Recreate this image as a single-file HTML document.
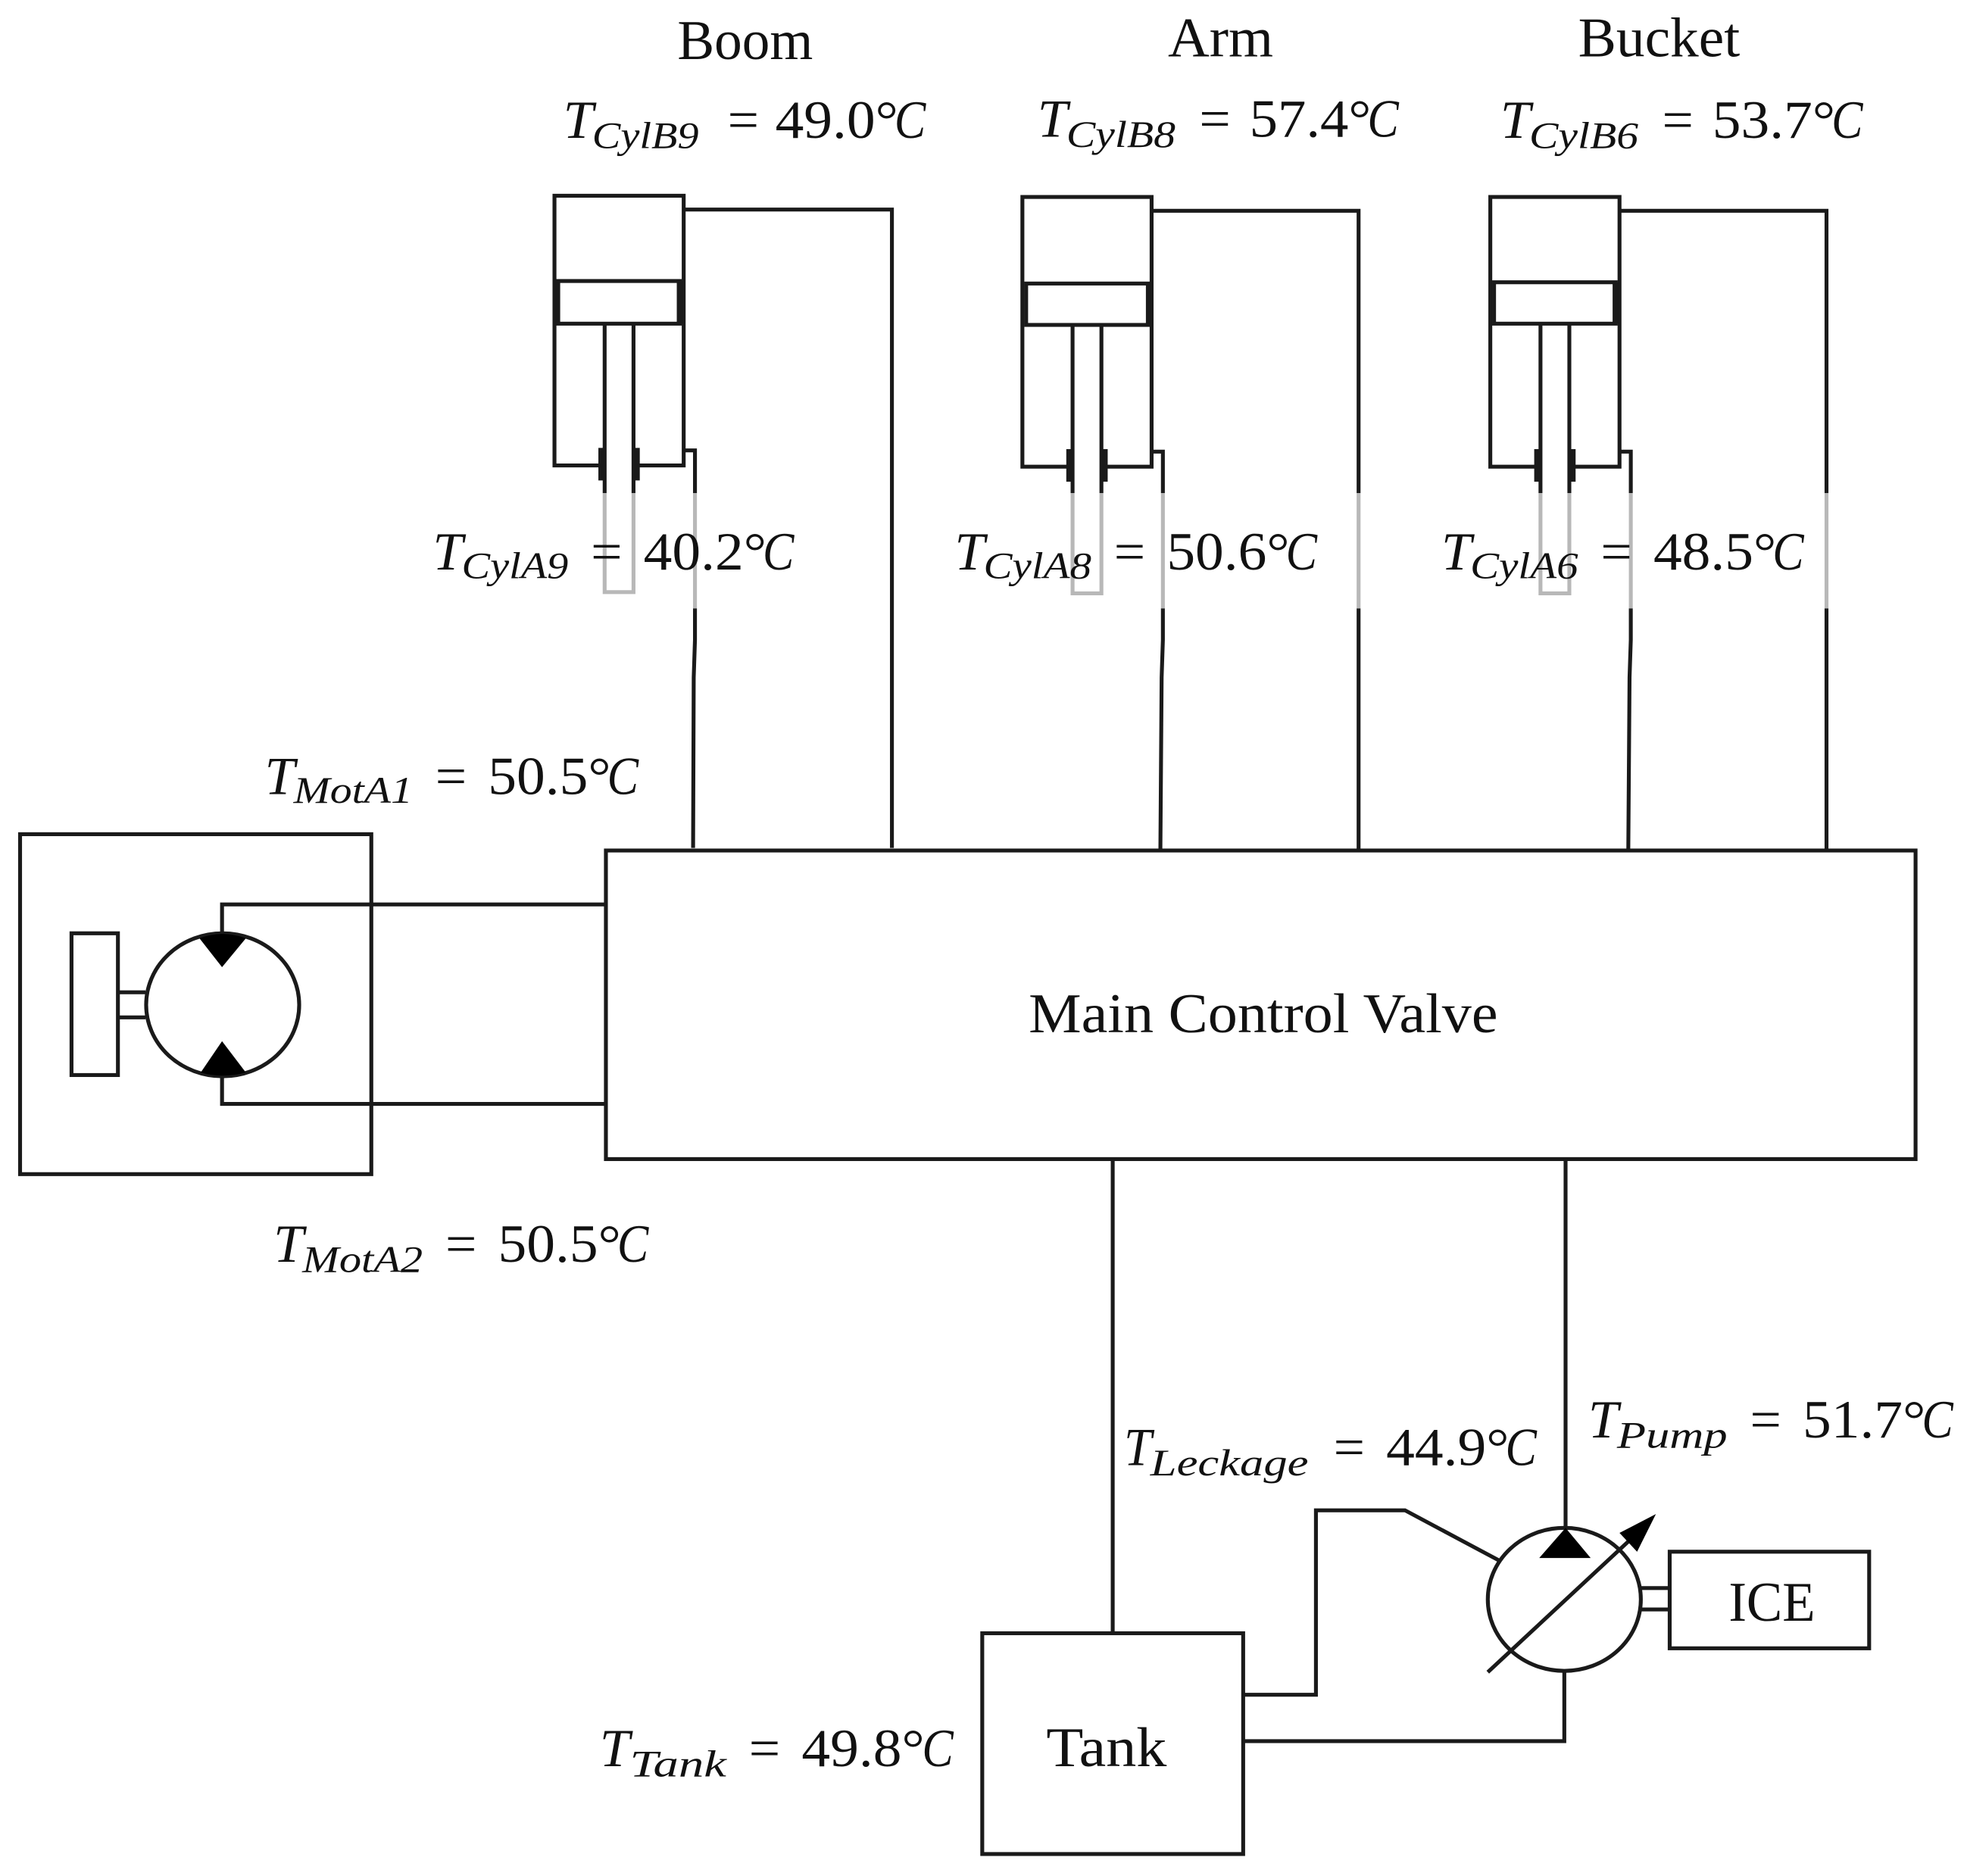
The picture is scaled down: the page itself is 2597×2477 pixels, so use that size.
<!DOCTYPE html>
<html><head><meta charset="utf-8"><style>
html,body{margin:0;padding:0;background:#fff}
svg{display:block}
text{font-family:"Liberation Serif",serif;fill:#111}
.n{font-size:45px}
.t{font-size:43px;font-style:italic}
.s{font-size:30px;font-style:italic}
.v{font-size:43px}
path,rect,ellipse,line{fill:none;stroke:#1a1a1a;stroke-width:3.1}
.g{stroke:#b8b8b8}
path.k{fill:#000;stroke:none}
.th{stroke-width:6}
</style></head><body>
<svg width="2597" height="2477" viewBox="0 0 1568 1495.5" xmlns="http://www.w3.org/2000/svg">
<!-- Cylinder 1 -->
<path d="M480 371H442V156H545V371H507"/><rect x="445" y="224" width="97" height="34"/>
<line x1="542.500" y1="224" x2="542.500" y2="258" class="th"/>
<path d="M482 258V393M505 258V393"/><path class="g" d="M482 393V472H505V393"/>
<line x1="480" y1="357" x2="480" y2="383" class="th"/><line x1="507" y1="357" x2="507" y2="383" class="th"/>
<path d="M545 359H554V393"/><path class="g" d="M554 393V485"/><path d="M554 485V510L553 540L552.500 676"/>
<path d="M545 167H711V676"/>
<!-- Cylinder 2 -->
<path d="M853 372H815V157H918V372H880"/><rect x="818" y="226" width="97" height="33"/>
<path d="M855 259V393M878 259V393"/><path class="g" d="M855 393V473H878V393"/>
<line x1="853" y1="358" x2="853" y2="384" class="th"/><line x1="880" y1="358" x2="880" y2="384" class="th"/>
<path d="M918 360H927V393"/><path class="g" d="M927 393V485"/><path d="M927 485V510L926 540L925 678"/>
<path d="M918 168H1083V393"/><path class="g" d="M1083 393V485"/><path d="M1083 485V678"/>
<!-- Cylinder 3 -->
<path d="M1226 372H1188V157H1291V372H1253"/><rect x="1191" y="225" width="97" height="33"/>
<line x1="1288.500" y1="225" x2="1288.500" y2="258" class="th"/>
<path d="M1228 258V393M1251 258V393"/><path class="g" d="M1228 393V473H1251V393"/>
<line x1="1226" y1="358" x2="1226" y2="384" class="th"/><line x1="1253" y1="358" x2="1253" y2="384" class="th"/>
<path d="M1291 360H1300V393"/><path class="g" d="M1300 393V485"/><path d="M1300 485V510L1299 540L1298 678"/>
<path d="M1291 168H1456V393"/><path class="g" d="M1456 393V485"/><path d="M1456 485V678"/>
<!-- Main valve -->
<rect x="483" y="678" width="1044" height="246"/>
<!-- Motor -->
<rect x="16" y="665" width="280" height="271"/>
<rect x="57" y="744" width="37" height="113"/>
<path d="M94 791H116M94 811H116"/>
<ellipse cx="177.500" cy="801" rx="61" ry="57"/>
<path d="M177 745V721H483M177 857V880H483"/>
<path class="k" d="M159 748Q177 741 196 748L177 771Z"/>
<path class="k" d="M160 855Q177 860 196 855L177 830Z"/>
<!-- Lower lines -->
<path d="M887 924V1302M1248 924V1220"/>
<rect x="783" y="1302" width="208" height="176"/>
<ellipse cx="1247" cy="1275" rx="61" ry="57"/>
<path class="k" d="M1227 1242H1268L1248 1218Z"/>
<line x1="1186" y1="1333" x2="1300" y2="1227"/>
<path class="k" d="M1320 1207L1291 1222L1305 1237Z"/>
<path d="M1308 1266H1331M1308 1283H1331"/>
<rect x="1331" y="1237" width="159" height="77"/>
<path d="M991 1351H1049V1204H1120L1195 1244"/>
<path d="M991 1388H1247V1332"/>
<!-- Titles -->
<text class="n" x="540" y="47" textLength="108" lengthAdjust="spacingAndGlyphs">Boom</text>
<text class="n" x="931" y="45" textLength="84" lengthAdjust="spacingAndGlyphs">Arm</text>
<text class="n" x="1258" y="45" textLength="129" lengthAdjust="spacingAndGlyphs">Bucket</text>
<text class="n" x="820" y="823" textLength="374" lengthAdjust="spacingAndGlyphs">Main Control Valve</text>
<text class="n" x="1378" y="1292" textLength="69" lengthAdjust="spacingAndGlyphs">ICE</text>
<text class="n" x="834" y="1408" textLength="96" lengthAdjust="spacingAndGlyphs">Tank</text>
<!-- Labels -->
<g>
<text class="t" x="449" y="110" textLength="24" lengthAdjust="spacingAndGlyphs">T</text><text class="s" x="472" y="118" textLength="85" lengthAdjust="spacingAndGlyphs">CylB9</text><text class="v" x="580" y="110" textLength="25" lengthAdjust="spacingAndGlyphs">=</text><text class="v" x="618" y="110" textLength="98" lengthAdjust="spacingAndGlyphs">49.0°</text><text class="t" x="713" y="110" textLength="25" lengthAdjust="spacingAndGlyphs">C</text>
<text class="t" x="827" y="109" textLength="24" lengthAdjust="spacingAndGlyphs">T</text><text class="s" x="850" y="117" textLength="87" lengthAdjust="spacingAndGlyphs">CylB8</text><text class="v" x="956" y="109" textLength="25" lengthAdjust="spacingAndGlyphs">=</text><text class="v" x="996" y="109" textLength="97" lengthAdjust="spacingAndGlyphs">57.4°</text><text class="t" x="1090" y="109" textLength="25" lengthAdjust="spacingAndGlyphs">C</text>
<text class="t" x="1196" y="110" textLength="24" lengthAdjust="spacingAndGlyphs">T</text><text class="s" x="1219" y="118" textLength="87" lengthAdjust="spacingAndGlyphs">CylB6</text><text class="v" x="1325" y="110" textLength="25" lengthAdjust="spacingAndGlyphs">=</text><text class="v" x="1365" y="110" textLength="98" lengthAdjust="spacingAndGlyphs">53.7°</text><text class="t" x="1460" y="110" textLength="25" lengthAdjust="spacingAndGlyphs">C</text>
<text class="t" x="345" y="454" textLength="24" lengthAdjust="spacingAndGlyphs">T</text><text class="s" x="368" y="461" textLength="85" lengthAdjust="spacingAndGlyphs">CylA9</text><text class="v" x="471" y="454" textLength="25" lengthAdjust="spacingAndGlyphs">=</text><text class="v" x="513" y="454" textLength="98" lengthAdjust="spacingAndGlyphs">40.2°</text><text class="t" x="608" y="454" textLength="25" lengthAdjust="spacingAndGlyphs">C</text>
<text class="t" x="761" y="454" textLength="24" lengthAdjust="spacingAndGlyphs">T</text><text class="s" x="784" y="461" textLength="86" lengthAdjust="spacingAndGlyphs">CylA8</text><text class="v" x="888" y="454" textLength="25" lengthAdjust="spacingAndGlyphs">=</text><text class="v" x="930" y="454" textLength="98" lengthAdjust="spacingAndGlyphs">50.6°</text><text class="t" x="1025" y="454" textLength="25" lengthAdjust="spacingAndGlyphs">C</text>
<text class="t" x="1149" y="454" textLength="24" lengthAdjust="spacingAndGlyphs">T</text><text class="s" x="1172" y="461" textLength="86" lengthAdjust="spacingAndGlyphs">CylA6</text><text class="v" x="1276" y="454" textLength="25" lengthAdjust="spacingAndGlyphs">=</text><text class="v" x="1318" y="454" textLength="98" lengthAdjust="spacingAndGlyphs">48.5°</text><text class="t" x="1413" y="454" textLength="25" lengthAdjust="spacingAndGlyphs">C</text>
<text class="t" x="211" y="633" textLength="24" lengthAdjust="spacingAndGlyphs">T</text><text class="s" x="234" y="640" textLength="95" lengthAdjust="spacingAndGlyphs">MotA1</text><text class="v" x="347" y="633" textLength="25" lengthAdjust="spacingAndGlyphs">=</text><text class="v" x="389" y="633" textLength="98" lengthAdjust="spacingAndGlyphs">50.5°</text><text class="t" x="484" y="633" textLength="25" lengthAdjust="spacingAndGlyphs">C</text>
<text class="t" x="218" y="1006" textLength="24" lengthAdjust="spacingAndGlyphs">T</text><text class="s" x="241" y="1014" textLength="96" lengthAdjust="spacingAndGlyphs">MotA2</text><text class="v" x="355" y="1006" textLength="25" lengthAdjust="spacingAndGlyphs">=</text><text class="v" x="397" y="1006" textLength="98" lengthAdjust="spacingAndGlyphs">50.5°</text><text class="t" x="492" y="1006" textLength="25" lengthAdjust="spacingAndGlyphs">C</text>
<text class="t" x="896" y="1168" textLength="22" lengthAdjust="spacingAndGlyphs">T</text><text class="s" x="917" y="1176" textLength="126" lengthAdjust="spacingAndGlyphs">Leckage</text><text class="v" x="1063" y="1168" textLength="25" lengthAdjust="spacingAndGlyphs">=</text><text class="v" x="1105" y="1168" textLength="98" lengthAdjust="spacingAndGlyphs">44.9°</text><text class="t" x="1200" y="1168" textLength="25" lengthAdjust="spacingAndGlyphs">C</text>
<text class="t" x="1266" y="1146" textLength="24" lengthAdjust="spacingAndGlyphs">T</text><text class="s" x="1289" y="1154" textLength="88" lengthAdjust="spacingAndGlyphs">Pump</text><text class="v" x="1395" y="1146" textLength="25" lengthAdjust="spacingAndGlyphs">=</text><text class="v" x="1437" y="1146" textLength="98" lengthAdjust="spacingAndGlyphs">51.7°</text><text class="t" x="1532" y="1146" textLength="25" lengthAdjust="spacingAndGlyphs">C</text>
<text class="t" x="478" y="1408" textLength="24" lengthAdjust="spacingAndGlyphs">T</text><text class="s" x="502" y="1416" textLength="77" lengthAdjust="spacingAndGlyphs">Tank</text><text class="v" x="597" y="1408" textLength="25" lengthAdjust="spacingAndGlyphs">=</text><text class="v" x="639" y="1408" textLength="98" lengthAdjust="spacingAndGlyphs">49.8°</text><text class="t" x="735" y="1408" textLength="25" lengthAdjust="spacingAndGlyphs">C</text>
</g>
</svg>
</body></html>
